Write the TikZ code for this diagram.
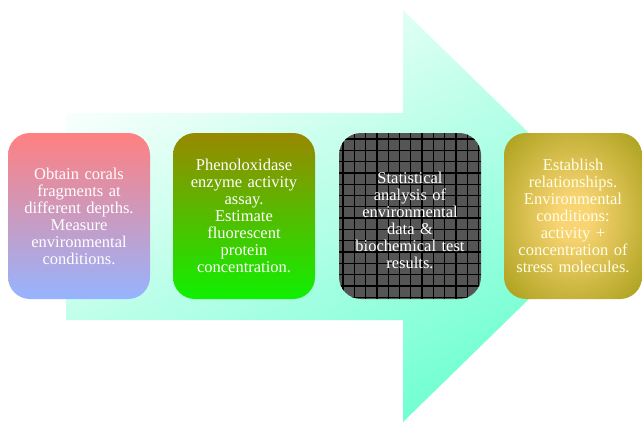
\documentclass[tikz,border=0pt]{standalone}
\usepackage{fontspec}
\setmainfont{Liberation Serif}
\definecolor{boxFourIn}{HTML}{F8D472}
\definecolor{boxFourOut}{HTML}{A19A12}
\pgfdeclareradialshading{fourshade}{\pgfpoint{0bp}{0bp}}{color(0bp)=(boxFourIn); color(6bp)=(boxFourIn); color(38bp)=(boxFourOut); color(50bp)=(boxFourOut)}
\begin{document}
\begin{tikzpicture}[x=1pt,y=-1pt,
  stepbox/.style={rounded corners=22pt, minimum width=142pt, minimum height=166pt,
    inner sep=0pt, text=white, align=center, text width=138pt,
    font=\fontsize{16.5}{17}\selectfont},
]
\definecolor{aqlight}{HTML}{FAFFFD}
\definecolor{aqdark}{HTML}{6CFFD0}
\definecolor{boxOneTop}{HTML}{FF8080}
\definecolor{boxOneBot}{HTML}{96B4FF}
\definecolor{boxTwoTop}{HTML}{998800}
\definecolor{boxTwoBot}{HTML}{0FF000}
\definecolor{boxThree}{HTML}{555555}
\useasboundingbox (0,0) rectangle (642,421);
\fill[white] (0,0) rectangle (642,421);
% big arrow
\shade[top color=aqlight, bottom color=aqdark, shading angle=30]
  (66,113) -- (403,113) -- (403,10) -- (614,216) -- (403,422) -- (403,320) -- (66,320) -- cycle;
% boxes
\node[stepbox, top color=boxOneTop, bottom color=boxOneBot] (b1) at (79,216)
  {Obtain corals\\fragments at\\different depths.\\Measure\\environmental\\conditions.};
\node[stepbox, top color=boxTwoTop, bottom color=boxTwoBot] (b2) at (244,216)
  {Phenoloxidase\\enzyme activity\\assay.\\Estimate\\fluorescent\\protein\\concentration.};
\node[stepbox, fill=boxThree,
  path picture={
    \foreach \i in {0,...,14} {
      \draw[black, line width=1.3pt] ([xshift=4pt+\i*11.3pt]path picture bounding box.north west) -- ([xshift=4pt+\i*11.3pt]path picture bounding box.south west);
    }
    \foreach \j in {0,...,16} {
      \draw[black, line width=1.3pt] ([yshift=-6pt-\j*11.3pt]path picture bounding box.north west) -- ([yshift=-6pt-\j*11.3pt]path picture bounding box.north east);
    }
  }] (b3) at (410,216) {};
\node[text=white, align=center, text width=138pt, font=\fontsize{16.5}{17}\selectfont] (t3) at (410,220)
  {Statistical\\analysis of\\environmental\\data \&\\biochemical test\\results.};
\node[stepbox, minimum width=136pt, shading=fourshade, text=white!90!yellow] (b4) at (573,216)
  {Establish\\relationships.\\Environmental\\conditions:\\activity +\\concentration of\\stress molecules.};
\end{tikzpicture}
\end{document}
